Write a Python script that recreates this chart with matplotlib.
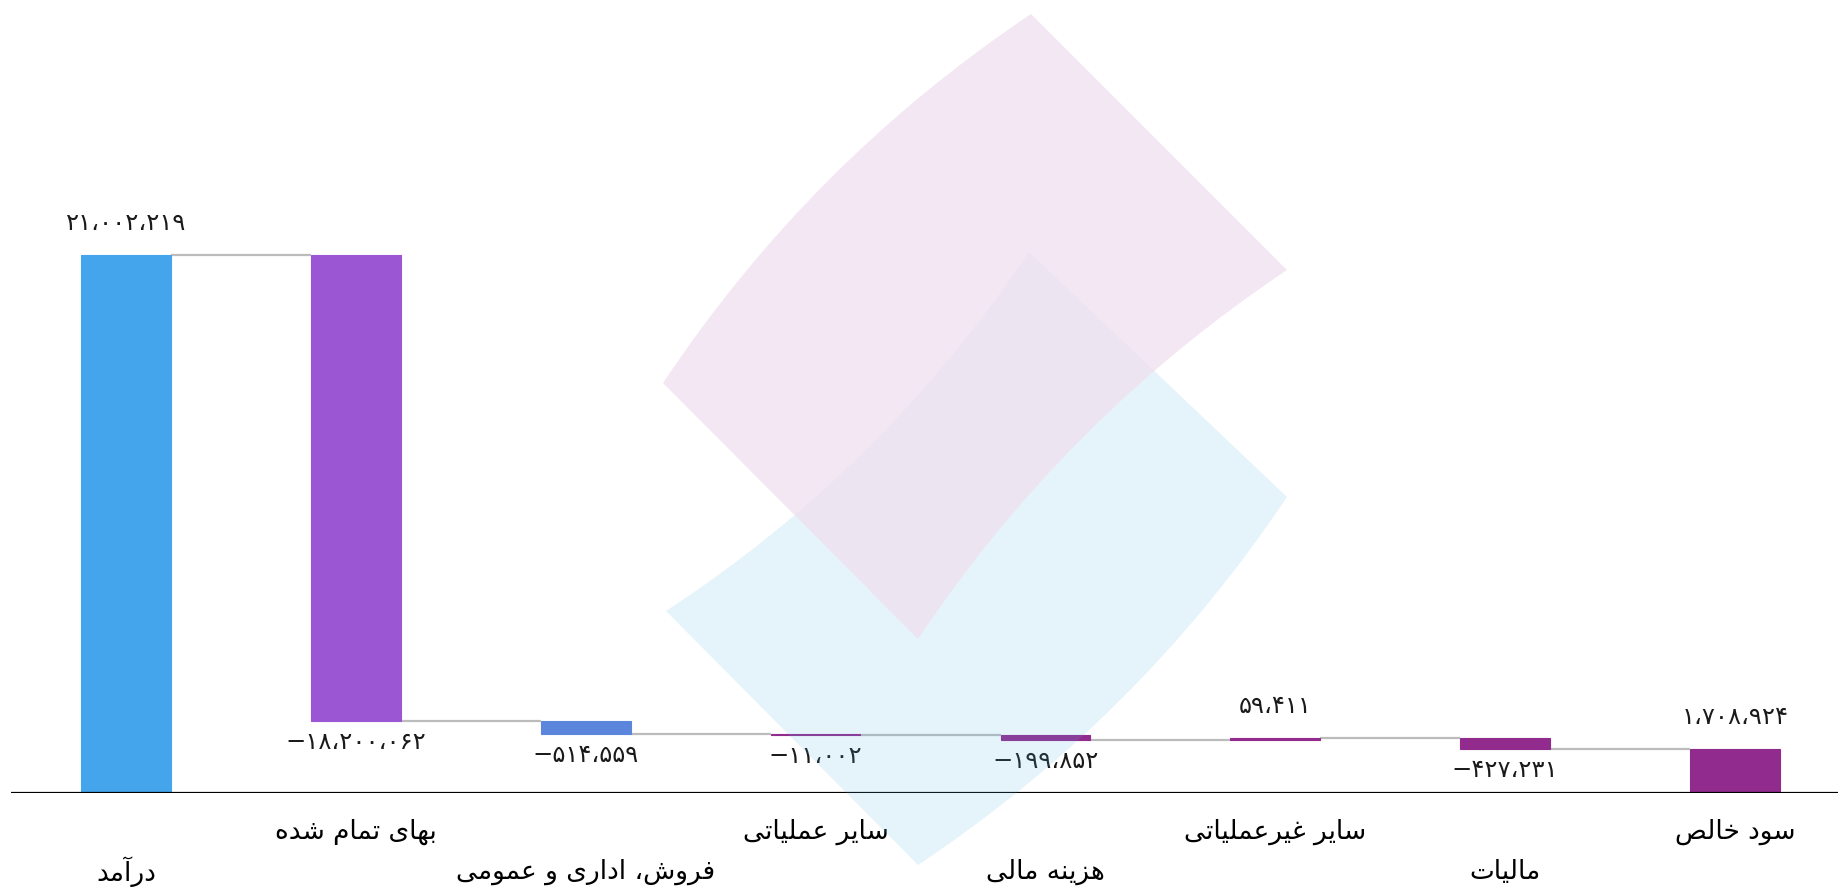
"""Waterfall of the income statement (Persian labels), with the faint logo watermark."""
import matplotlib
matplotlib.use("Agg")
import matplotlib.pyplot as plt
from matplotlib.path import Path
from matplotlib.patches import PathPatch
import numpy as np

W, H = 1838, 890

categories = ["درآمد", "بهای تمام شده", "فروش، اداری و عمومی", "سایر عملیاتی",
              "هزینه مالی", "سایر غیرعملیاتی", "مالیات", "سود خالص"]
values = [21002219, -18200062, -514559, -11002, -199852, 59411, -427231, 1708924]
is_total = [True, False, False, False, False, False, False, True]
colors = ["#45a5ec", "#9b57d3", "#5b86dc", "#922b8e", "#922b8e", "#922b8e",
          "#922b8e", "#922b8e"]

# ---- minimal Arabic/Persian shaping (matplotlib has no complex text layout) ----
# iso, fin, ini, med
FORMS = {
    "ا": ("\uFE8D", "\uFE8E", None, None), "آ": ("\uFE81", "\uFE82", None, None),
    "ب": ("\uFE8F", "\uFE90", "\uFE91", "\uFE92"), "ت": ("\uFE95", "\uFE96", "\uFE97", "\uFE98"),
    "خ": ("\uFEA5", "\uFEA6", "\uFEA7", "\uFEA8"), "د": ("\uFEA9", "\uFEAA", None, None),
    "ر": ("\uFEAD", "\uFEAE", None, None), "ز": ("\uFEAF", "\uFEB0", None, None),
    "س": ("\uFEB1", "\uFEB2", "\uFEB3", "\uFEB4"), "ش": ("\uFEB5", "\uFEB6", "\uFEB7", "\uFEB8"),
    "ص": ("\uFEB9", "\uFEBA", "\uFEBB", "\uFEBC"), "ع": ("\uFEC9", "\uFECA", "\uFECB", "\uFECC"),
    "غ": ("\uFECD", "\uFECE", "\uFECF", "\uFED0"), "ف": ("\uFED1", "\uFED2", "\uFED3", "\uFED4"),
    "ل": ("\uFEDD", "\uFEDE", "\uFEDF", "\uFEE0"), "م": ("\uFEE1", "\uFEE2", "\uFEE3", "\uFEE4"),
    "ن": ("\uFEE5", "\uFEE6", "\uFEE7", "\uFEE8"), "ه": ("\uFEE9", "\uFEEA", "\uFEEB", "\uFEEC"),
    "و": ("\uFEED", "\uFEEE", None, None), "ی": ("\uFEEF", "\uFEF0", "\uFEF3", "\uFEF4"),
}


def shape(s):
    out = []
    for i, c in enumerate(s):
        if c not in FORMS:
            out.append(c)
            continue
        iso, fin, ini, med = FORMS[c]
        prev = s[i - 1] if i > 0 else ""
        nxt = s[i + 1] if i + 1 < len(s) else ""
        jp = prev in FORMS and FORMS[prev][2] is not None
        jn = ini is not None and nxt in FORMS
        out.append(med if jp and jn else fin if jp else ini if jn else iso)
    return "".join(reversed(out))


FA = str.maketrans("0123456789,", "۰۱۲۳۴۵۶۷۸۹،")


def fa_num(v):
    s = f"{abs(v):,}".translate(FA)
    return ("−" + s) if v < 0 else s


plt.rcParams["font.family"] = ["DejaVu Sans"]
fig = plt.figure(figsize=(W / 100, H / 100), dpi=100, facecolor="white")
ax = fig.add_axes([11 / W, 97 / H, 1839 / W, 793 / H])

n, w = len(values), 0.39
running = 0
bottoms, heights, levels = [], [], []
for v, tot in zip(values, is_total):
    if tot:
        b, h = 0, v
        running = v
    else:
        b, h = min(running, running + v), abs(v)
        running += v
    bottoms.append(b)
    heights.append(h)
    levels.append(running)

x = np.arange(n)
ax.bar(x, heights, bottom=bottoms, width=w, color=colors, edgecolor=colors,
       linewidth=0.8, zorder=3)
for i in range(n - 1):
    ax.hlines(levels[i], i + w / 2, i + 1 - w / 2, color="#bcbcbc", lw=1.6, zorder=2)

for i, v in enumerate(values):
    if v >= 0:
        y, dy = bottoms[i] + heights[i], 32
    else:
        y, dy = bottoms[i], -21
    ax.annotate(fa_num(v), (i, y), xytext=(0, dy), textcoords="offset pixels",
                ha="center", va="center", fontsize=17.5, color="#1a1a1a")

for i, c in enumerate(categories):
    dy = -79 if i % 2 == 0 else -39
    ax.annotate(shape(c), (i, 0), xytext=(0, dy), textcoords="offset pixels",
                ha="center", va="center", fontsize=19, color="#000000",
                annotation_clip=False)

ax.set_xlim(-0.5, n - 0.5)
ax.set_ylim(0, 30.96e6)
ax.axis("off")
ax.axhline(0, color="#000000", lw=1.6, zorder=4)


# ---- watermark (figure pixel coords, y measured from top) ----
def fp(p):
    return (p[0] / W, 1 - p[1] / H)


def logo(L, T, R, B, sag, sign):
    # both curved edges bow the same way on screen (sign=+1: lower-right, -1: upper-left)
    def ctrl(a, b, s):
        a, b = np.array(a, float), np.array(b, float)
        d = (b - a) / np.linalg.norm(b - a)
        nrm = s * np.array([-d[1], d[0]])
        return (a + b) / 2 + nrm * 2 * sag
    verts = [L, ctrl(L, T, sign), T, R, ctrl(R, B, -sign), B, L]
    codes = [Path.MOVETO, Path.CURVE3, Path.CURVE3, Path.LINETO,
             Path.CURVE3, Path.CURVE3, Path.CLOSEPOLY]
    return Path([fp(v) for v in verts], codes)


blue = logo((666, 611), (1029, 252), (1287, 497), (918, 865), 26, 1)
pink = logo((663, 383), (1031, 14), (1287, 270), (918, 639), 26, -1)
fig.patches.append(PathPatch(blue, transform=fig.transFigure, facecolor=(82 / 255, 182 / 255, 228 / 255),
                             alpha=0.15, edgecolor="none", zorder=10))
fig.patches.append(PathPatch(pink, transform=fig.transFigure, facecolor=(240 / 255, 225 / 255, 240 / 255),
                             alpha=0.8, edgecolor="none", zorder=11))

fig.savefig("out.png", dpi=100, facecolor="white")
